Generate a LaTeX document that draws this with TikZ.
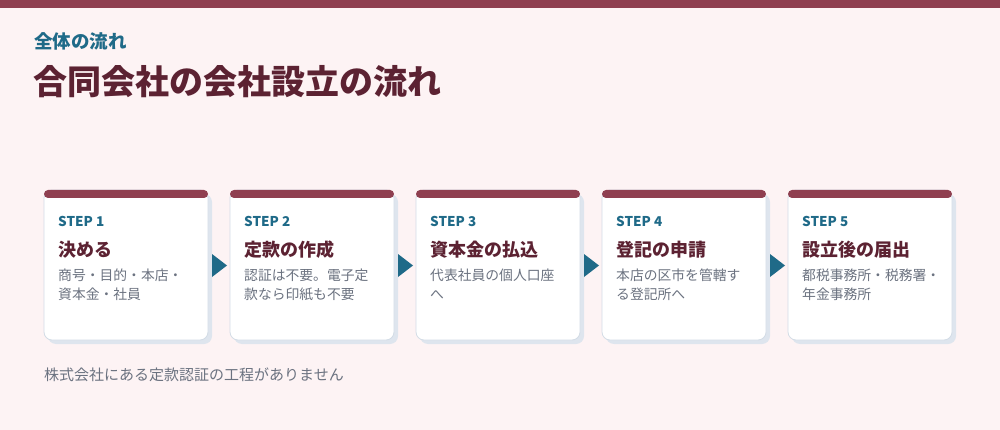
\documentclass[tikz,border=0pt]{standalone}
\usepackage{fontspec}
\setmainfont{Noto Sans CJK JP}
\definecolor{bgc}{HTML}{FDF3F4}
\definecolor{barc}{HTML}{8F3F50}
\definecolor{tealc}{HTML}{1F6A88}
\definecolor{maroonc}{HTML}{5C2232}
\definecolor{greyc}{HTML}{6B7280}
\definecolor{borderc}{HTML}{D3DCE6}
\definecolor{shadowc}{HTML}{DEE5EE}
\begin{document}
\begin{tikzpicture}[x=1pt,y=-1pt,
  steplabel/.style={anchor=base west,inner sep=0pt,font=\fontsize{13.5}{15}\selectfont\bfseries,text=tealc},
  steptitle/.style={anchor=base west,inner sep=0pt,font=\fontsize{18}{20}\selectfont\bfseries,text=maroonc},
  stepdesc/.style={anchor=base west,inner sep=0pt,font=\fontsize{13.8}{19.5}\selectfont,text=greyc,align=left},
  cardbox/.style={draw=borderc,line width=0.8pt,fill=white,rounded corners=8pt},
  cardshadow/.style={fill=shadowc,rounded corners=8pt},
  cardbar/.style={fill=barc,rounded corners=4pt},
  arrowhead/.style={fill=tealc}]
\useasboundingbox (0,0) rectangle (1000,430);
\fill[bgc] (0,0) rectangle (1000,430);
\fill[barc] (0,0) rectangle (1000,8);
\node[anchor=base west,inner sep=0pt,font=\fontsize{18.5}{21}\selectfont\bfseries,text=tealc] (sub) at (34,48.5) {全体の流れ};
\node[anchor=base west,inner sep=0pt,font=\fontsize{34}{38}\selectfont\bfseries,text=maroonc] (title) at (33,95) {合同会社の会社設立の流れ};
\foreach \i/\lab/\ttl/\dsc in {
  0/STEP 1/決める/{商号・目的・本店・\\資本金・社員},
  1/STEP 2/定款の作成/{認証は不要。電子定\\款なら印紙も不要},
  2/STEP 3/資本金の払込/{代表社員の個人口座\\へ},
  3/STEP 4/登記の申請/{本店の区市を管轄す\\る登記所へ},
  4/STEP 5/設立後の届出/{都税事務所・税務署・\\年金事務所}} {
  \pgfmathsetmacro{\xl}{44+186*\i}
  \fill[cardshadow] (\xl+4,194) rectangle (\xl+168,344);
  \draw[cardbox] (\xl,190) rectangle (\xl+164,340);
  \fill[cardbar] (\xl,190) rectangle (\xl+164,198);
  \node[steplabel] (lab\i) at (\xl+14,227) {\lab};
  \node[steptitle] (ttl\i) at (\xl+14,256) {\ttl};
  \node[stepdesc] (dsc\i) at (\xl+14,299.5) {\dsc};
}
\foreach \i in {0,1,2,3} {
  \pgfmathsetmacro{\xa}{212+186*\i}
  \fill[arrowhead] (\xa,254) -- (\xa+15,265.5) -- (\xa,277) -- cycle;
}
\node[anchor=base west,inner sep=0pt,font=\fontsize{15}{17}\selectfont,text=greyc] (note) at (44,380) {株式会社にある定款認証の工程がありません};
\end{tikzpicture}
\end{document}
